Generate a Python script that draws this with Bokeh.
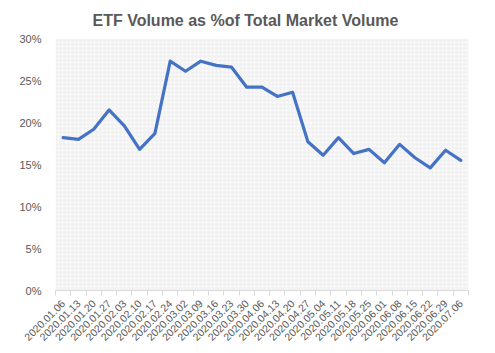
import math
from bokeh.plotting import figure
from bokeh.models import FixedTicker, BoxAnnotation, NumeralTickFormatter, Range1d, Title
from bokeh.embed import file_html
from bokeh.resources import INLINE

dates = ["2020.01.06", "2020.01.13", "2020.01.20", "2020.01.27", "2020.02.03", "2020.02.10",
         "2020.02.17", "2020.02.24", "2020.03.02", "2020.03.09", "2020.03.16", "2020.03.23",
         "2020.03.30", "2020.04.06", "2020.04.13", "2020.04.20", "2020.04.27", "2020.05.04",
         "2020.05.11", "2020.05.18", "2020.05.25", "2020.06.01", "2020.06.08", "2020.06.15",
         "2020.06.22", "2020.06.29", "2020.07.06"]
etf_pct = [18.2, 18.0, 19.2, 21.5, 19.6, 16.8, 18.7, 27.3, 26.1, 27.3, 26.8, 26.6,
           24.2, 24.2, 23.1, 23.6, 17.7, 16.1, 18.2, 16.3, 16.8, 15.2, 17.4, 15.8,
           14.6, 16.7, 15.5]
y_ticks = [0, 0.05, 0.10, 0.15, 0.20, 0.25, 0.30]
title_text = "ETF Volume as %of Total Market Volume"

xs = list(range(len(dates)))
ys = [v / 100 for v in etf_pct]
n = len(dates)

FONT = "Liberation Sans"
GRAY = "#595959"

p = figure(width=495, height=353, output_backend="svg", toolbar_location=None,
           x_range=Range1d(-0.5, n - 0.5), y_range=Range1d(0, 0.30),
           frame_width=413, frame_height=252, title=None,
           min_border_left=55, min_border_right=27, min_border_top=9, min_border_bottom=10)
p.outline_line_color = None
p.background_fill_color = "white"
p.border_fill_color = "white"

t = Title(text=title_text, align="left", offset=37, standoff=19, text_font=FONT,
          text_font_size="16px", text_font_style="bold", text_color=GRAY)
p.add_layout(t, "above")

bg = BoxAnnotation(left=-0.5, right=n - 0.5, bottom=0, top=0.30,
                   fill_color="#f2f2f2", fill_alpha=1.0, line_color=None,
                   hatch_pattern="dot", hatch_color="white", hatch_scale=4, hatch_alpha=1.0,
                   level="underlay")
p.add_layout(bg)

p.xgrid.grid_line_color = None
p.ygrid.grid_line_color = "#d9d9d9"
p.ygrid.grid_line_width = 1
p.ygrid.level = "underlay"

p.yaxis.ticker = FixedTicker(ticks=y_ticks)
p.yaxis.formatter = NumeralTickFormatter(format="0%")
p.yaxis.axis_line_color = None
p.yaxis.major_tick_line_color = None
p.yaxis.minor_tick_line_color = None
p.yaxis.major_label_text_font = FONT
p.yaxis.major_label_text_font_size = "11px"
p.yaxis.major_label_text_color = GRAY
p.yaxis.major_label_standoff = 8

p.xaxis.ticker = FixedTicker(ticks=xs, minor_ticks=[x - 0.5 for x in xs] + [n - 0.5])
p.xaxis.major_label_overrides = {x: d for x, d in zip(xs, dates)}
p.xaxis.major_label_orientation = math.pi / 4
p.xaxis.axis_line_color = "#d9d9d9"
p.xaxis.major_tick_line_color = None
p.xaxis.minor_tick_line_color = "#d9d9d9"
p.xaxis.minor_tick_out = 5
p.xaxis.minor_tick_in = 0
p.xaxis.major_label_text_font = FONT
p.xaxis.major_label_text_font_size = "10.5px"
p.xaxis.major_label_text_color = GRAY
p.xaxis.major_label_standoff = 5

p.line(xs, ys, line_color="#4472C4", line_width=3.2, line_join="round", line_cap="round")

open("out.html", "w").write(file_html(p, INLINE))
